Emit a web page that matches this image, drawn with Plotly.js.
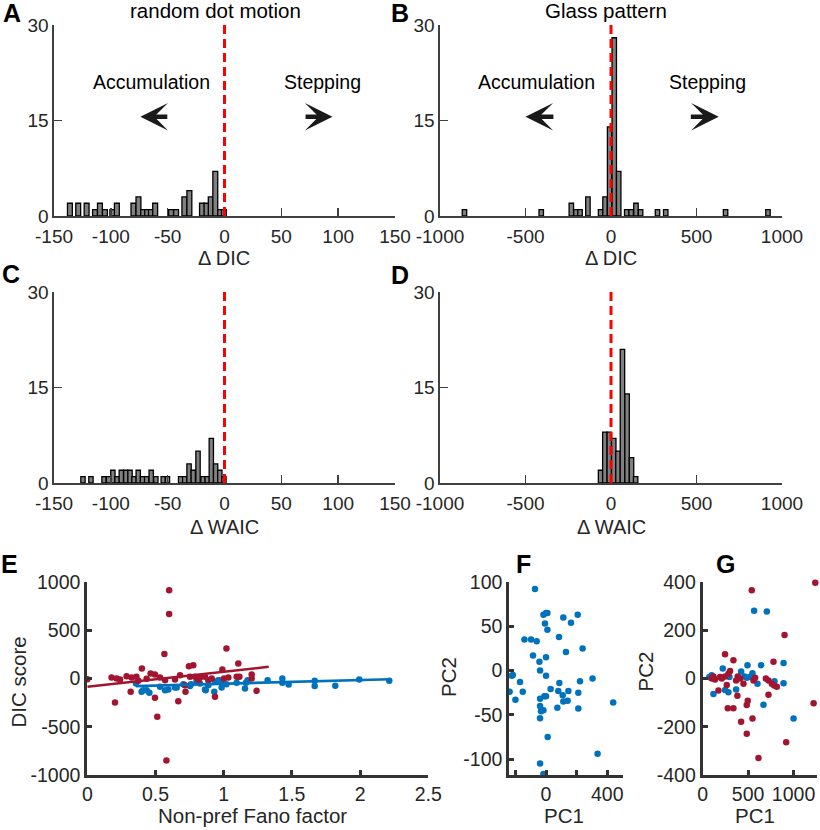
<!DOCTYPE html>
<html>
<head>
<meta charset="utf-8">
<script src="https://cdn.plot.ly/plotly-3.0.1.min.js"></script>
<style>html,body{margin:0;padding:0;background:#fff;}#chart{width:820px;height:830px;}</style>
</head>
<body>
<div id="chart"></div>
<script>
// ---------- Data ----------
// Panel A: random dot motion, delta DIC histogram
const aCenters = [-136, -128.7, -121.3, -113.9, -109.6, -105.2, -98.7, -94.7, -80.1, -75.7, -71.6, -68, -64.7, -61, -47, -42.6, -35.3, -30.9, -19.8, -15.8, -12.1, -8.1, -3.8, -0.5];
const aCounts  = [2, 2, 2, 1, 2, 1, 1, 2, 2, 3, 1, 1, 1, 2, 1, 1, 3, 4, 2, 2, 3, 7, 1, 1];
// Panel B: Glass pattern, delta DIC histogram
const bCenters = [-857, -408, -232, -205, -181, -135, -61, -35, -8, 19, 45, 92, 118, 146, 173, 272, 320, 670, 918];
const bCounts  = [1, 1, 2, 1, 1, 3, 1, 3, 14, 28, 7, 1, 1, 2, 1, 1, 1, 1, 1];
// Panel C: random dot motion, delta WAIC histogram
const cCenters = [-124.5, -117.5, -106, -102, -98.2, -94.5, -90.8, -86.8, -83.1, -79.6, -75.9, -72.1, -68.5, -64.5, -60.4, -53.9, -50.2, -38.6, -35, -31.2, -27.5, -23.3, -18.9, -15.2, -11.6, -7.8, -4.1, -0.5];
const cCounts  = [1, 1, 1, 1, 2, 1, 2, 2, 2, 1, 2, 1, 1, 2, 1, 1, 1, 1, 1, 3, 2, 5, 1, 1, 7, 3, 2, 1];
// Panel D: Glass pattern, delta WAIC histogram
const dCenters = [-61, -36, -10, 16, 41, 67, 94, 120, 144];
const dCounts  = [2, 8, 8, 7, 5, 21, 14, 4, 1];

// Panel E: DIC score vs non-pref Fano factor
const eRedX = [0, 0.60, 0.60, 0.565, 1.02, 1.107, 0.40, 0.203, 0.513, 0.58, 0.496, 0.667, 0.936, 1.241, 0.318, 0.72, 0.745, 0.777, 0.99, 1.205, 1.205, 1.115, 0.178, 0.215, 0.24, 0.288, 0.325, 0.36, 0.435, 0.464, 0.496, 0.533, 0.57, 0.643, 0.68, 0.716, 0.753, 0.79, 0.826, 0.863, 0.887, 0.912, 1.002, 1.034, 1.095, 0.374, 0.814];
const eRedY = [-7, 914, 669, 255, 310, 155, 103, -248, -397, -850, -200, -235, -190, -128, -138, -138, 128, 138, 93, 41, 0, 17, 10, 0, -10, 24, 10, 17, -3, 52, 41, 10, -17, -10, 34, -69, 17, 17, 10, 17, -17, 0, 0, 10, 17, -24, -17];
const eBlueX = [0.357, 0.398, 0.41, 0.435, 0.455, 0.533, 0.57, 0.594, 0.643, 0.655, 0.704, 0.753, 0.76, 0.80, 0.826, 0.863, 0.868, 0.887, 0.931, 0.936, 0.96, 0.97, 0.985, 0.99, 1.02, 1.095, 1.156, 1.163, 1.175, 1.322, 1.43, 1.43, 1.476, 1.667, 1.667, 1.818, 1.994, 2.214];
const eBlueY = [-52, -138, -121, -121, -148, -86, -121, -114, -93, -93, -59, -79, -59, -34, -52, -114, -121, -69, -138, -34, -17, -17, -93, -52, -59, -45, -103, -45, -17, -17, 0, -45, -62, -24, -79, -76, -10, -24];
const eRedFitX = [0, 1.33];
const eRedFitY = [-86, 121];
const eBlueFitX = [0.357, 2.22];
const eBlueFitY = [-79, -7];

// Panel F: PC1 vs PC2 (blue)
const fX = [-72, -17, 0, 9, -7, 9, 113, 207, 163, -141, -98, -61, 85, -85, 0, -43, 130, 239, -39, 0, -217, -224, -170, -238, -152, -200, 87, 30, 222, 304, 80, 211, 109, 146, -11, -39, 0, 113, 141, 74, 211, 439, -39, -17, -33, -39, 11, 337, -39, -17];
const fY = [92, 63, 65, 65, 53, 46, 60, 63, 54, 35, 35, 33, 38, 17, 15, 10, 21, 25, 0, -6, -5, -6, -13, -24, -24, -33, -14, -21, -12, -9, -23, -25, -28, -23, -29, -32, -29, -35, -34, -42, -43, -36, -40, -45, -46, -54, -75, -94, -105, -117];

// Panel G: PC1 vs PC2 (red and blue)
const gRedX = [1239, 540, 901, 246, 338, 779, 1221, 919, 614, 485, 423, 548, 276, 338, 485, 496, 382, 173, 724, 265, 301, 283, 246, 191, 136, 118, 210, 386, 412, 368, 559, 577, 695, 724, 761, 816, 787, 449, 99];
const gRedY = [397, 366, 180, 101, 76, 69, -103, -264, -330, -229, -179, -166, -123, -123, -110, -92, -71, -50, -67, -27, 31, 20, 8, 6, -4, 8, 0, 8, 0, -8, -8, 3, 0, -8, -22, -34, -29, -22, 0];
const gBlueX = [566, 706, 890, 643, 493, 221, 548, 423, 460, 485, 515, 294, 99, 73, 118, 246, 283, 368, 603, 790, 890, 669, 1000];
const gBlueY = [281, 278, 64, 55, 55, 41, 22, 29, 8, 3, 6, 6, 13, 6, -64, -48, -57, -46, -22, -11, -20, -109, -166];

// Tick values / labels
const histSmallTicks = [-150, -100, -50, 0, 50, 100, 150];
const histLargeTicks = [-1000, -500, 0, 500, 1000];
const countTicks = [0, 15, 30];
const eXTicks = [0, 0.5, 1, 1.5, 2, 2.5];
const eYTicks = [-1000, -500, 0, 500, 1000];
const fXTicks = [-200, 0, 200, 400];
const fXTickText = ['', '0', '', '400'];
const fYTicks = [-100, -50, 0, 50, 100];
const gXTicks = [0, 500, 1000];
const gYTicks = [-400, -200, 0, 200, 400];

// ---------- Styling ----------
const FONT = 'Liberation Sans, Arial, Helvetica, sans-serif';
const RED = '#a2142f', BLUE = '#0072bd';
const W = 820, H = 830;
const lab = v => v.map(t => String(t).replace('\u2212', '-'));
const px = (a, b) => [a / W, b / W];
const py = (top, bottom) => [1 - bottom / H, 1 - top / H];

function thinAxis(extra) {
  return Object.assign({
    showline: true, linecolor: '#404040', linewidth: 1.6,
    ticks: 'inside', ticklen: 8, tickwidth: 1.6, tickcolor: '#404040',
    showgrid: false, zeroline: false, fixedrange: true,
    tickfont: {family: FONT, size: 19, color: '#262626'}
  }, extra);
}
function thickAxis(extra) {
  return Object.assign({
    showline: true, linecolor: '#333333', linewidth: 3,
    ticks: 'inside', ticklen: 5, tickwidth: 3, tickcolor: '#333333',
    showgrid: false, zeroline: false, fixedrange: true,
    tickfont: {family: FONT, size: 19.5, color: '#262626'}
  }, extra);
}

function hist(x, y, w, xa, ya) {
  return {type: 'bar', x: x, y: y, width: w, xaxis: xa, yaxis: ya,
    marker: {color: '#808080', line: {color: '#000000', width: 1.3}},
    hoverinfo: 'skip', showlegend: false};
}
function dots(x, y, color, xa, ya) {
  return {type: 'scatter', mode: 'markers', x: x, y: y, xaxis: xa, yaxis: ya,
    marker: {color: color, size: 6.5}, cliponaxis: false, hoverinfo: 'skip', showlegend: false};
}
function fit(x, y, color, xa, ya) {
  return {type: 'scatter', mode: 'lines', x: x, y: y, xaxis: xa, yaxis: ya,
    line: {color: color, width: 2.6}, hoverinfo: 'skip', showlegend: false};
}

const traces = [
  hist(aCenters, aCounts, 4.3, 'x', 'y'),
  hist(bCenters, bCounts, 26, 'x2', 'y2'),
  hist(cCenters, cCounts, 3.8, 'x3', 'y3'),
  hist(dCenters, dCounts, 26, 'x4', 'y4'),
  dots(eBlueX, eBlueY, BLUE, 'x5', 'y5'),
  dots(eRedX, eRedY, RED, 'x5', 'y5'),
  fit(eRedFitX, eRedFitY, RED, 'x5', 'y5'),
  fit(eBlueFitX, eBlueFitY, BLUE, 'x5', 'y5'),
  dots(fX, fY, BLUE, 'x6', 'y6'),
  dots(gBlueX, gBlueY, BLUE, 'x7', 'y7'),
  dots(gRedX, gRedY, RED, 'x7', 'y7')
];

const rowTop = py(25, 216), rowMid = py(292, 483), rowBot = py(582, 775);
const xs = {ticklabelstandoff: 3};
const layout = {
  width: W, height: H, margin: {l: 0, r: 0, t: 0, b: 0},
  paper_bgcolor: '#ffffff', plot_bgcolor: 'rgba(0,0,0,0)', showlegend: false,
  font: {family: FONT, color: '#262626'},
  xaxis:  thinAxis(Object.assign({domain: px(54, 395), anchor: 'y', range: [-150, 150], tickvals: histSmallTicks, ticktext: lab(histSmallTicks)}, xs)),
  yaxis:  thinAxis({domain: rowTop, anchor: 'x', range: [0, 30], tickvals: countTicks, ticktext: lab(countTicks)}),
  xaxis2: thinAxis(Object.assign({domain: px(440, 782), anchor: 'y2', range: [-1000, 1000], tickvals: histLargeTicks, ticktext: lab(histLargeTicks)}, xs)),
  yaxis2: thinAxis({domain: rowTop, anchor: 'x2', range: [0, 30], tickvals: countTicks, ticktext: lab(countTicks)}),
  xaxis3: thinAxis(Object.assign({domain: px(54, 395), anchor: 'y3', range: [-150, 150], tickvals: histSmallTicks, ticktext: lab(histSmallTicks)}, xs)),
  yaxis3: thinAxis({domain: rowMid, anchor: 'x3', range: [0, 30], tickvals: countTicks, ticktext: lab(countTicks)}),
  xaxis4: thinAxis(Object.assign({domain: px(440, 782), anchor: 'y4', range: [-1000, 1000], tickvals: histLargeTicks, ticktext: lab(histLargeTicks)}, xs)),
  yaxis4: thinAxis({domain: rowMid, anchor: 'x4', range: [0, 30], tickvals: countTicks, ticktext: lab(countTicks)}),
  xaxis5: thickAxis({domain: px(87.3, 428.3), anchor: 'y5', range: [0, 2.5], tickvals: eXTicks, ticktext: lab(eXTicks)}),
  yaxis5: thickAxis({domain: rowBot, anchor: 'x5', range: [-1000, 1000], tickvals: eYTicks, ticktext: lab(eYTicks)}),
  xaxis6: thickAxis({domain: px(509.3, 623.3), anchor: 'y6', range: [-240, 505], tickvals: fXTicks, ticktext: fXTickText}),
  yaxis6: thickAxis({domain: rowBot, anchor: 'x6', range: [-118, 100], tickvals: fYTicks, ticktext: lab(fYTicks)}),
  xaxis7: thickAxis({domain: px(702.7, 816.7), anchor: 'y7', range: [0, 1255], tickvals: gXTicks, ticktext: lab(gXTicks)}),
  yaxis7: thickAxis({domain: rowBot, anchor: 'x7', range: [-400, 400], tickvals: gYTicks, ticktext: lab(gYTicks)}),
  shapes: [],
  annotations: []
};

// red dashed reference lines at zero
[['x', 'y'], ['x2', 'y2'], ['x3', 'y3'], ['x4', 'y4']].forEach(([xa, ya]) => {
  layout.shapes.push({type: 'line', xref: xa, yref: ya, x0: 0, x1: 0, y0: 0, y1: 30,
    line: {color: '#ff0000', width: 3, dash: '9px,5px'}});
});

function paperText(text, x, y, size, opts) {
  layout.annotations.push(Object.assign({
    text: text, xref: 'paper', yref: 'paper', x: x / W, y: 1 - y / H,
    xanchor: 'center', yanchor: 'middle', showarrow: false,
    font: {family: FONT, size: size, color: '#262626'}
  }, opts || {}));
}
// panel letters
const letters = [['A', 12, 13], ['B', 400, 13], ['C', 11, 274], ['D', 400, 275], ['E', 9, 564], ['F', 523, 564], ['G', 725, 564]];
letters.forEach(([t, x, y]) => paperText('<b>' + t + '</b>', x, y, 25, {font: {family: FONT, size: 25, color: '#000000'}}));
// titles
paperText('random dot motion', 215, 11, 20.5, {font: {family: FONT, size: 20.5, color: '#000000'}});
paperText('Glass pattern', 606, 11, 20.5, {font: {family: FONT, size: 20.5, color: '#000000'}});
// axis titles
paperText('\u0394 DIC', 224, 258, 20);
paperText('\u0394 DIC', 611, 258, 20);
paperText('\u0394 WAIC', 224, 527, 20);
paperText('\u0394 WAIC', 611, 527, 20);
paperText('Non-pref Fano factor', 252, 815, 20.5);
paperText('DIC score', 17.5, 682, 20.5, {textangle: -90});
paperText('PC1', 564, 815, 20.5);
paperText('PC1', 755, 815, 20.5);
paperText('PC2', 448, 677, 20.5, {textangle: -90});
paperText('PC2', 644.5, 672, 20.5, {textangle: -90});

// in-panel labels and arrows (data coords)
function dataText(text, x, y, xa, ya) {
  layout.annotations.push({text: text, xref: xa, yref: ya, x: x, y: y, showarrow: false,
    xanchor: 'center', yanchor: 'middle', font: {family: FONT, size: 19.5, color: '#000000'}});
}
function arrow(xTip, xTail, y, xa, ya) {
  layout.annotations.push({text: '', xref: xa, yref: ya, axref: xa, ayref: ya,
    x: xTip, y: y, ax: xTail, ay: y, showarrow: true, arrowhead: 3,
    arrowsize: 1.0, arrowwidth: 4.6, arrowcolor: '#1a1a1a', standoff: 0, startstandoff: 0});
}
dataText('Accumulation', -64, 21, 'x', 'y');
dataText('Stepping', 86, 21, 'x', 'y');
dataText('Accumulation', -435, 21, 'x2', 'y2');
dataText('Stepping', 566, 21, 'x2', 'y2');
arrow(-74, -49, 15.6, 'x', 'y');
arrow(95, 70, 15.6, 'x', 'y');
arrow(-500, -328, 15.6, 'x2', 'y2');
arrow(630, 458, 15.6, 'x2', 'y2');

Plotly.newPlot('chart', traces, layout, {staticPlot: true, displayModeBar: false});
</script>
</body>
</html>
